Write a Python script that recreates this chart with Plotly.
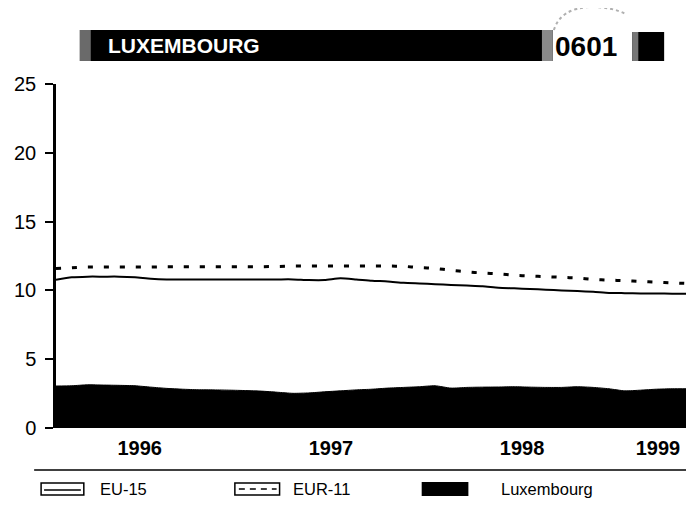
import plotly.graph_objects as go

# ---------------- data (monthly, Jan 1996 .. May 1999) ----------------
months = list(range(41))
eu15 = [10.78, 10.95, 11.0, 11.0, 11.0, 10.95, 10.85, 10.8, 10.8, 10.8,
        10.8, 10.8, 10.8, 10.8, 10.8, 10.8, 10.75, 10.75, 10.88, 10.8,
        10.7, 10.65, 10.55, 10.5, 10.45, 10.4, 10.35, 10.3, 10.2, 10.15,
        10.1, 10.05, 10.0, 9.95, 9.9, 9.82, 9.8, 9.78, 9.78, 9.76, 9.76]
eur11 = [11.6, 11.65, 11.7, 11.7, 11.7, 11.7, 11.7, 11.72, 11.72, 11.72,
         11.72, 11.72, 11.72, 11.72, 11.74, 11.77, 11.77, 11.77, 11.77, 11.77,
         11.77, 11.77, 11.75, 11.66, 11.6, 11.46, 11.35, 11.26, 11.2, 11.1,
         11.05, 11.0, 10.95, 10.9, 10.8, 10.75, 10.7, 10.65, 10.6, 10.55, 10.5]
luxembourg = [3.05, 3.07, 3.14, 3.12, 3.1, 3.07, 2.97, 2.88, 2.82, 2.78,
              2.77, 2.75, 2.72, 2.68, 2.6, 2.52, 2.55, 2.63, 2.7, 2.77,
              2.82, 2.9, 2.95, 3.0, 3.07, 2.9, 2.95, 2.97, 2.98, 3.0,
              2.97, 2.95, 2.95, 3.0, 2.95, 2.85, 2.7, 2.75, 2.82, 2.85, 2.85]
series_names = ["EU-15", "EUR-11", "Luxembourg"]
year_labels = ["1996", "1997", "1998", "1999"]
year_tick_pos = [5.3, 17.4, 29.5, 38.1]
y_ticks = [0, 5, 10, 15, 20, 25]
title_text = "LUXEMBOURG"
code_text = "0601"

# ---------------- layout geometry ----------------
# the page body has an 8px margin, so the figure is 8px smaller and
# all reference pixel positions are shifted by 8px
W, H = 686, 498
L, T = 44, 76
PW, PH = 636, 344
R, B = W - L - PW, H - T - PH


def px(x):
    # reference pixel x -> paper fraction
    return (x - 8 - L) / PW


def py(y):
    # reference pixel y -> paper fraction
    return (H - B - (y - 8)) / PH


FONT = "Liberation Sans, Arial, sans-serif"

fig = go.Figure()
fig.add_trace(go.Scatter(x=months, y=luxembourg, mode="lines", name=series_names[2],
                         fill="tozeroy", fillcolor="black",
                         line=dict(color="black", width=1, shape="spline", smoothing=0.6)))
fig.add_trace(go.Scatter(x=months, y=eu15, mode="lines", name=series_names[0],
                         line=dict(color="black", width=2, shape="spline", smoothing=0.6)))
fig.add_trace(go.Scatter(x=months, y=eur11, mode="lines", name=series_names[1],
                         line=dict(color="black", width=3, dash="5px,11px",
                                   shape="spline", smoothing=0.6)))

shapes = []
annotations = []

# title banner
shapes.append(dict(type="rect", xref="paper", yref="paper",
                   x0=px(76), x1=px(552), y0=py(61), y1=py(30),
                   fillcolor="black", line=dict(width=0), layer="above"))
# grainy edges of banner
shapes.append(dict(type="rect", xref="paper", yref="paper",
                   x0=px(76), x1=px(87), y0=py(61), y1=py(30),
                   fillcolor="#6a6a6a", line=dict(width=0), layer="above"))
shapes.append(dict(type="rect", xref="paper", yref="paper",
                   x0=px(541), x1=px(552), y0=py(61), y1=py(30),
                   fillcolor="#8a8a8a", line=dict(width=0), layer="above"))
shapes.append(dict(type="rect", xref="paper", yref="paper",
                   x0=px(632), x1=px(664), y0=py(61), y1=py(32),
                   fillcolor="black", line=dict(width=0), layer="above"))
shapes.append(dict(type="rect", xref="paper", yref="paper",
                   x0=px(632), x1=px(638), y0=py(61), y1=py(32),
                   fillcolor="#777777", line=dict(width=0), layer="above"))
# faint arc above the code
shapes.append(dict(type="path", xref="paper", yref="paper",
                   path=f"M {px(553)},{py(30)} Q {px(560)},{py(8)} {px(590)},{py(7)} "
                        f"Q {px(612)},{py(7)} {px(625)},{py(14)}",
                   line=dict(color="#b0b0b0", width=2, dash="dot"), layer="above"))
annotations.append(dict(xref="paper", yref="paper", x=px(102), y=py(45),
                        xanchor="left", yanchor="middle", text=f"<b>{title_text}</b>",
                        showarrow=False, font=dict(family=FONT, size=21, color="white")))
annotations.append(dict(xref="paper", yref="paper", x=px(585), y=py(46),
                        xanchor="center", yanchor="middle", text=f"<b>{code_text}</b>",
                        showarrow=False, font=dict(family=FONT, size=28, color="black")))

# separator line above legend
shapes.append(dict(type="line", xref="paper", yref="paper",
                   x0=px(30), x1=px(694), y0=py(470), y1=py(470),
                   line=dict(color="black", width=1.5)))

# legend (drawn manually)
leg_y = 489
# EU-15
shapes.append(dict(type="rect", xref="paper", yref="paper",
                   x0=px(37), x1=px(80), y0=py(495), y1=py(483),
                   line=dict(color="black", width=1.5), fillcolor="white"))
shapes.append(dict(type="line", xref="paper", yref="paper",
                   x0=px(40), x1=px(77), y0=py(490), y1=py(490),
                   line=dict(color="black", width=1.5)))
# EUR-11
shapes.append(dict(type="rect", xref="paper", yref="paper",
                   x0=px(232), x1=px(277), y0=py(495), y1=py(483),
                   line=dict(color="black", width=1.5), fillcolor="white"))
shapes.append(dict(type="line", xref="paper", yref="paper",
                   x0=px(236), x1=px(274), y0=py(489), y1=py(489),
                   line=dict(color="black", width=1.5, dash="6px,5px")))
# Luxembourg
shapes.append(dict(type="rect", xref="paper", yref="paper",
                   x0=px(420), x1=px(467), y0=py(496), y1=py(482),
                   line=dict(width=0), fillcolor="black"))
for name, xpos in zip(series_names, [94, 288, 498]):
    annotations.append(dict(xref="paper", yref="paper", x=px(xpos), y=py(leg_y),
                            xanchor="left", yanchor="middle", text=name,
                            showarrow=False, font=dict(family=FONT, size=16.5, color="black")))

fig.update_layout(
    width=W, height=H,
    margin=dict(l=L, r=R, t=T, b=B),
    paper_bgcolor="white", plot_bgcolor="white",
    showlegend=False,
    shapes=shapes, annotations=annotations,
    font=dict(family=FONT, color="black"),
)
fig.update_xaxes(range=[0, 40], showgrid=False, zeroline=False, showline=False,
                 tickmode="array", tickvals=year_tick_pos,
                 ticktext=[f"<b>{t}</b>" for t in year_labels],
                 ticks="", tickfont=dict(family=FONT, size=20, color="black"),
                 ticklabelstandoff=6)
fig.update_yaxes(range=[0, 25], showgrid=False, zeroline=False,
                 showline=True, linecolor="black", linewidth=2.5,
                 tickmode="array", tickvals=y_ticks,
                 ticks="outside", ticklen=8, tickwidth=2, tickcolor="black",
                 tickfont=dict(family=FONT, size=20, color="black"),
                 ticklabelstandoff=5)

fig.write_html("out.html")
